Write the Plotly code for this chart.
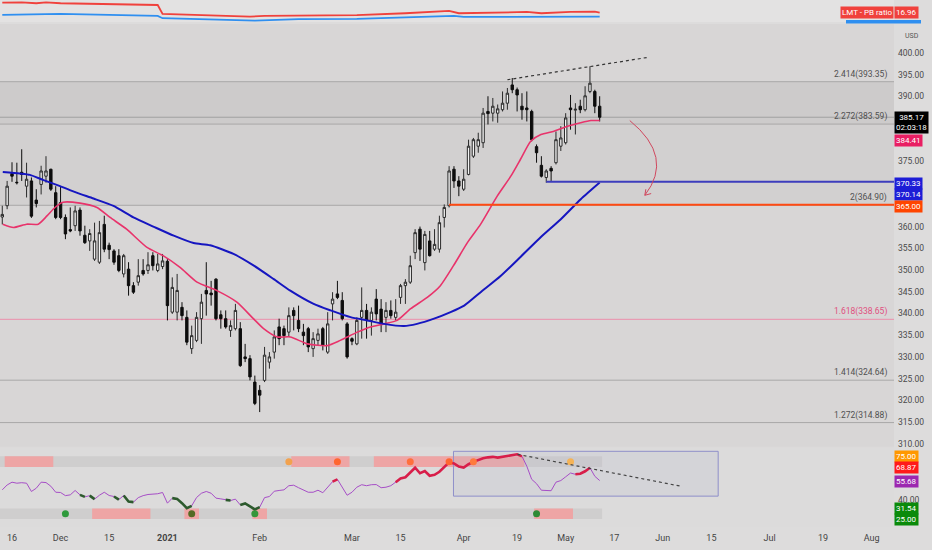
import plotly.graph_objects as go

# daily bars, index 0 = 2020-11-12 (trading days only)
o = [362.2, 364.8, 372.2, 370.2, 372.5, 369.3, 370.5, 366.1, 369.7, 371.6,
     373.2, 367.8, 365.5, 362.1, 359.3, 360.2, 363.8, 358.0, 356.7, 352.5,
     351.8, 360.5, 355.7, 354.4, 353.3, 349.1, 350.2, 346.4, 347.2, 349.9,
     349.9, 353.3, 349.9, 350.8, 352.0, 340.3, 340.3, 341.4, 339.1, 331.9,
     333.8, 338.8, 345.3, 344.7, 347.9, 339.7, 338.8, 336.1, 336.5, 336.5,
     330.0, 329.6, 324.2, 322.3, 324.6, 328.8, 331.1, 336.9, 336.5, 335.7,
     340.7, 338.4, 335.7, 336.5, 331.9, 333.8, 336.5, 331.1, 342.2, 344.5,
     343.0, 337.6, 334.2, 333.0, 339.1, 340.7, 338.4, 343.3, 341.0, 339.1,
     340.7, 339.1, 343.7, 346.4, 347.2, 354.0, 359.4, 351.7, 356.7, 354.8,
     354.8, 362.1, 364.8, 373.2, 370.5, 368.6, 372.0, 376.2, 378.5, 379.3,
     386.5, 386.1, 386.1, 386.9, 388.4, 392.6, 391.5, 387.7, 387.3, 386.5,
     378.4, 374.1, 371.3, 373.4, 374.7, 378.5, 379.3, 387.3, 386.8, 387.7,
     386.9, 391.1, 391.1, 387.7]
h = [364.8, 370.5, 374.8, 374.7, 377.8, 374.7, 371.3, 368.6, 374.0, 376.2,
     373.3, 369.3, 369.3, 362.8, 364.4, 364.8, 364.4, 360.2, 359.4, 360.9,
     361.3, 362.5, 356.3, 354.8, 354.8, 353.7, 351.8, 347.2, 352.5, 352.5,
     354.1, 354.1, 353.7, 353.7, 352.5, 348.3, 349.1, 342.6, 340.7, 337.2,
     340.3, 344.5, 351.8, 347.5, 348.1, 340.7, 340.7, 338.4, 342.2, 338.0,
     333.0, 330.4, 325.7, 323.5, 332.3, 331.1, 336.1, 338.8, 337.2, 341.4,
     341.4, 341.8, 337.6, 336.9, 335.7, 336.5, 336.9, 340.3, 344.9, 347.5,
     344.9, 338.0, 334.5, 339.1, 346.0, 342.2, 341.4, 345.6, 343.3, 342.6,
     343.0, 343.3, 346.8, 347.9, 353.3, 359.4, 360.0, 359.0, 359.0, 359.4,
     362.5, 365.1, 373.9, 373.9, 371.6, 373.2, 380.0, 380.4, 381.6, 387.3,
     390.0, 389.6, 388.1, 391.1, 391.9, 394.2, 392.0, 390.7, 391.1, 386.9,
     378.9, 376.2, 373.2, 373.9, 381.9, 383.1, 386.1, 390.3, 388.4, 389.2,
     392.3, 396.9, 391.5, 390.0]
l = [360.5, 364.0, 370.3, 369.7, 370.5, 366.7, 362.0, 364.4, 367.4, 370.1,
     368.2, 361.7, 361.7, 357.1, 358.7, 359.0, 357.9, 356.0, 354.4, 352.1,
     351.4, 354.1, 352.5, 351.2, 349.5, 348.3, 344.1, 344.5, 346.4, 348.7,
     349.1, 349.9, 349.5, 350.2, 338.4, 339.9, 338.4, 338.4, 332.7, 330.7,
     333.4, 333.0, 339.5, 341.8, 338.4, 336.5, 336.5, 334.6, 336.1, 327.7,
     328.8, 324.6, 318.9, 317.3, 324.2, 327.3, 329.6, 332.7, 332.7, 334.6,
     336.1, 335.7, 332.7, 331.1, 330.0, 332.7, 331.5, 330.7, 338.4, 343.3,
     338.4, 329.6, 332.7, 332.7, 334.2, 334.2, 334.9, 338.4, 335.7, 335.7,
     338.8, 338.4, 342.2, 342.2, 346.8, 352.5, 352.1, 349.9, 353.1, 354.4,
     354.0, 359.8, 364.4, 368.9, 367.0, 368.2, 371.8, 375.8, 377.0, 378.1,
     383.5, 384.2, 383.9, 386.5, 386.9, 390.7, 386.5, 384.6, 384.2, 379.6,
     374.7, 371.3, 370.1, 370.5, 374.3, 377.4, 378.9, 382.3, 381.2, 386.1,
     386.5, 390.7, 386.1, 384.2]
c = [362.8, 369.3, 371.6, 370.1, 372.0, 370.9, 362.4, 365.3, 372.8, 372.8,
     368.6, 362.1, 362.1, 358.3, 359.0, 363.6, 359.0, 356.3, 358.4, 356.7,
     358.6, 354.8, 354.7, 351.8, 349.9, 353.3, 346.4, 344.9, 348.7, 349.1,
     351.2, 351.0, 351.4, 352.1, 341.8, 346.0, 345.3, 339.5, 333.4, 334.9,
     339.1, 342.6, 344.5, 344.3, 338.8, 338.8, 336.9, 337.2, 340.7, 328.0,
     329.6, 325.4, 319.3, 321.2, 330.4, 330.0, 334.6, 334.2, 334.9, 339.5,
     339.5, 336.5, 334.9, 332.3, 334.2, 335.3, 332.7, 337.6, 343.3, 343.7,
     338.8, 330.0, 333.6, 338.4, 340.7, 338.4, 340.3, 339.9, 337.6, 340.7,
     339.5, 340.3, 346.4, 347.2, 351.0, 358.6, 354.8, 358.2, 353.3, 355.9,
     360.9, 364.4, 372.8, 370.5, 369.3, 370.9, 378.5, 380.0, 380.0, 386.1,
     386.0, 387.7, 387.1, 388.4, 390.7, 391.5, 390.3, 386.9, 386.9, 380.0,
     377.0, 371.6, 372.8, 372.8, 380.0, 380.4, 385.0, 386.9, 387.0, 386.9,
     390.1, 393.0, 387.7, 385.17]

rsi = [48.3, 52.2, 54.4, 53.6, 54.0, 53.6, 47.0, 49.6, 54.4, 54.1,
       51.2, 46.4, 46.2, 43.7, 44.3, 47.8, 44.3, 42.7, 43.7, 40.9,
       44.0, 46.4, 43.8, 43.0, 40.5, 43.8, 39.0, 38.5, 42.1, 43.7,
       44.6, 44.8, 45.2, 46.2, 37.7, 41.7, 41.1, 37.7, 33.7, 35.6,
       42.2, 45.6, 47.0, 45.6, 41.7, 41.1, 40.3, 39.8, 40.9, 36.3,
       37.5, 35.1, 32.7, 34.5, 42.1, 43.0, 47.2, 47.8, 48.3, 51.6,
       52.0, 50.0, 48.0, 46.4, 46.4, 48.0, 46.0, 50.4, 54.8, 56.7,
       50.0, 44.0, 46.4, 50.4, 52.4, 51.6, 52.4, 52.5, 50.0, 50.4,
       51.6, 54.4, 57.3, 58.3, 62.3, 65.9, 61.5, 63.3, 59.5, 60.3,
       62.7, 66.3, 70.2, 69.4, 66.8, 66.0, 68.7, 70.6, 72.2, 73.4,
       74.2, 74.6, 74.0, 74.6, 75.6, 76.0, 76.6, 75.0, 67.1, 56.7,
       53.2, 48.0, 48.0, 47.6, 54.4, 55.7, 58.7, 61.7, 60.7, 61.1,
       63.1, 65.9, 59.1, 55.7]

# moving averages (bar index, value)
ema_x = [0.1, 2.3, 5, 7.4, 9.2, 10.9, 12.5, 16, 19.5, 22.2, 25.6, 29.8, 33.1, 36.6,
         40.1, 44.2, 48.3, 51.7, 53.8, 56.6, 59.3, 62.8, 66.9, 69.6, 73.1, 75.8, 78.6,
         81.3, 84.1, 87.5, 90.2, 92.9, 95.8, 98.5, 101.9, 104.7, 106.7, 108.8, 110.9,
         113.6, 116.4, 119.1, 121.2, 123]
ema_y = [360.55, 359.8, 360.55, 360.55, 362.45, 364.45, 365.6, 365.4, 364.4, 362.1,
         359.4, 355.2, 353.3, 350.6, 347.2, 345.25, 342.6, 338.8, 336.5, 334.6, 334.6,
         333.0, 332.6, 333.8, 335.7, 336.9, 337.6, 338.4, 341.1, 343.7, 346.4, 351.0,
         356.35, 360.55, 367.0, 371.6, 375.5, 379.65, 381.2, 381.95, 383.1, 383.9,
         384.4, 384.41]
sma_x = [0.1, 3.6, 5.7, 8.5, 11.9, 15.3, 18.8, 22.9, 27, 31.1, 35.3, 39.4, 42.8, 47.6,
         51.8, 55.9, 59.3, 64.1, 67.6, 71.7, 75.1, 78.6, 82.7, 85.4, 88.9, 92.3, 95.1,
         98.5, 102.6, 106.7, 110.9, 115, 119.1, 123]
sma_y = [372.55, 372.2, 371.9, 370.7, 369.3, 367.8, 366.45, 364.75, 362.1, 360.0,
         357.9, 356.2, 355.7, 353.7, 351.0, 347.9, 345.25, 342.2, 340.7, 339.15, 338.4,
         337.6, 337.1, 337.6, 338.8, 340.3, 341.8, 344.9, 348.6, 353.0, 357.6, 361.7,
         366.3, 370.14]

# PB / PE ratio pane
pb_x = [0, 4, 7, 9, 12, 18, 24, 32, 33, 39, 51, 54, 61, 71, 73, 83, 92, 94, 101, 108,
        111, 117, 122, 123]
pb_y = [20.45, 20.6, 20.25, 20.6, 20.25, 20.0, 19.75, 19.65, 16.5, 16.15, 15.56, 15.8,
        15.9, 16.25, 16.1, 16.75, 17.55, 16.75, 17.1, 17.2, 16.75, 17.2, 17.3, 16.96]
pe_x = [0, 12, 32, 33, 52, 61, 73, 93, 95, 110, 123]
pe_y = [16.15, 16.5, 15.8, 15.0, 14.16, 14.65, 14.75, 15.8, 15.45, 15.56, 15.54]

tick_pos = [2, 12, 22, 34, 53, 72, 82, 95, 106, 116, 126, 136, 146, 158, 169, 179]
tick_txt = ["16", "Dec", "15", "<b>2021</b>", "Feb", "Mar", "15", "Apr", "19", "May",
            "17", "Jun", "15", "Jul", "19", "Aug"]
# price ticks that are visible (the rest sit under the value tags)
price_ticks = [310, 315, 320, 325, 330, 335, 340, 345, 350, 355, 360, 375, 390, 395, 400]

fib_lvl = [393.35, 383.59, 364.90, 338.65, 324.64, 314.88]
fib_txt = ["2.414(393.35)", "2.272(383.59)", "2(364.90)", "1.618(338.65)",
           "1.414(324.64)", "1.272(314.88)"]

last_price = 385.17
support_blue = 370.33
support_red = 365.00
blue_start = 112
red_start = 92

# rsi highlight runs, signal bands and dots
hi_runs = [(68, 69), (81, 107), (118, 121)]
lo_runs = [(16, 17), (18, 19), (23, 24), (25, 27), (35, 39), (46, 47), (49, 53)]
ob_pink = [(1, 10), (60, 71), (77, 107)]
os_pink = [(19, 30), (38, 40), (52, 54), (110, 117)]
ob_dots = [59, 69, 84, 92, 97, 117]
ob_cols = ["#f2a24e", "#ff6630", "#ff6f3c", "#ff6630", "#ff7a3d", "#f5b356"]
os_dots = [13, 39, 52, 110]
os_cols = ["#2f9a3c", "#556a24", "#36963a", "#2e8b35"]

trend_main = ([104, 133.2], [393.8, 399.0])
trend_rsi = ([106.1, 139.7], [76.6, 51.2])
rsi_box = (92.9, 147.4, 43.3, 79.0)

n = len(c)
idx = list(range(n))
xr = [-0.47, 183.6]
FONT = "Roboto"

fig = go.Figure()

fig.add_trace(go.Candlestick(
    x=idx, open=o, high=h, low=l, close=c, xaxis="x", yaxis="y",
    increasing=dict(line=dict(color="#2a2a2a", width=1), fillcolor="#f3f3f3"),
    decreasing=dict(line=dict(color="#0d0d0d", width=1), fillcolor="#0d0d0d"),
    whiskerwidth=0, hoverinfo="skip", showlegend=False))
fig.add_trace(go.Scatter(x=ema_x, y=ema_y, mode="lines", xaxis="x", yaxis="y",
                         line=dict(color="#e8336b", width=1.6, shape="spline", smoothing=0.6),
                         hoverinfo="skip", showlegend=False))
fig.add_trace(go.Scatter(x=sma_x, y=sma_y, mode="lines", xaxis="x", yaxis="y",
                         line=dict(color="#1616c0", width=2, shape="spline", smoothing=0.6),
                         hoverinfo="skip", showlegend=False))

fig.add_trace(go.Scatter(x=pe_x, y=pe_y, mode="lines", xaxis="x2", yaxis="y2",
                         line=dict(color="#2f8ff0", width=1.8), hoverinfo="skip", showlegend=False))
fig.add_trace(go.Scatter(x=pb_x, y=pb_y, mode="lines", xaxis="x2", yaxis="y2",
                         line=dict(color="#f0413c", width=1.8), hoverinfo="skip", showlegend=False))

fig.add_trace(go.Scatter(x=idx, y=rsi, mode="lines", xaxis="x3", yaxis="y3",
                         line=dict(color="#a64ec6", width=1), hoverinfo="skip", showlegend=False))
for a, b in lo_runs:
    fig.add_trace(go.Scatter(x=idx[a:b + 1], y=rsi[a:b + 1], mode="lines", xaxis="x3", yaxis="y3",
                             line=dict(color="#2d5a2d", width=2.6), hoverinfo="skip", showlegend=False))
for a, b in hi_runs:
    fig.add_trace(go.Scatter(x=idx[a:b + 1], y=rsi[a:b + 1], mode="lines", xaxis="x3", yaxis="y3",
                             line=dict(color="#d81e4a", width=2.6), hoverinfo="skip", showlegend=False))
fig.add_trace(go.Scatter(x=ob_dots, y=[70.75] * len(ob_dots), mode="markers", xaxis="x3", yaxis="y3",
                         marker=dict(size=7, color=ob_cols, line=dict(width=0)),
                         hoverinfo="skip", showlegend=False))
fig.add_trace(go.Scatter(x=os_dots, y=[29.25] * len(os_dots), mode="markers", xaxis="x3", yaxis="y3",
                         marker=dict(size=7, color=os_cols, line=dict(width=0)),
                         hoverinfo="skip", showlegend=False))

shapes = []
# pane backgrounds
shapes.append(dict(type="rect", xref="x2 domain", yref="y2 domain", x0=0, x1=1, y0=0, y1=1,
                   fillcolor="#e3e2e2", line=dict(width=0), layer="below"))
shapes.append(dict(type="rect", xref="x3 domain", yref="y3 domain", x0=0, x1=1, y0=0, y1=1,
                   fillcolor="#dcdbdb", line=dict(width=0), layer="below"))
# fib bands
shapes.append(dict(type="rect", xref="x domain", yref="y", x0=0, x1=1, y0=fib_lvl[1], y1=fib_lvl[0],
                   fillcolor="rgba(0,0,0,0.05)", line=dict(width=0), layer="below"))
shapes.append(dict(type="rect", xref="x domain", yref="y", x0=0, x1=1, y0=fib_lvl[2], y1=fib_lvl[1],
                   fillcolor="rgba(0,0,0,0.022)", line=dict(width=0), layer="below"))
for lv in fib_lvl:
    col = "#ec8fab" if lv == 338.65 else "#a9a8a8"
    shapes.append(dict(type="line", xref="x domain", yref="y", x0=0, x1=1, y0=lv, y1=lv,
                       line=dict(color=col, width=1), layer="below"))
shapes.append(dict(type="line", xref="x domain", yref="y", x0=0, x1=1, y0=last_price, y1=last_price,
                   line=dict(color="#a0a0a0", width=1), layer="below"))
# support rays
shapes.append(dict(type="line", xref="x", yref="y", x0=blue_start, x1=xr[1], y0=support_blue,
                   y1=support_blue, line=dict(color="#3d3dbd", width=2)))
shapes.append(dict(type="line", xref="x", yref="y", x0=red_start, x1=xr[1], y0=support_red,
                   y1=support_red, line=dict(color="#ff4a12", width=2)))
# trend lines
shapes.append(dict(type="line", xref="x", yref="y", x0=trend_main[0][0], x1=trend_main[0][1],
                   y0=trend_main[1][0], y1=trend_main[1][1],
                   line=dict(color="#333333", width=1.2, dash="dot")))
# curved arrow
shapes.append(dict(type="path", xref="x", yref="y",
                   path="M 129.2,384.4 Q 138.4,376.0 132.3,367.2",
                   line=dict(color="#d0485e", width=1)))
shapes.append(dict(type="path", xref="x", yref="y",
                   path="M 133.6,367.6 L 132.3,367.2 L 132.5,368.6",
                   line=dict(color="#d0485e", width=1)))
# rsi bands
for lo_v, hi_v, runs in [(66.5, 75, ob_pink), (25, 33.5, os_pink)]:
    shapes.append(dict(type="rect", xref="x3", yref="y3", x0=-0.5, x1=n - 0.5, y0=lo_v, y1=hi_v,
                       fillcolor="#cfcece", line=dict(width=0), layer="below"))
    for a, b in runs:
        shapes.append(dict(type="rect", xref="x3", yref="y3", x0=a - 0.5, x1=b + 0.5, y0=lo_v, y1=hi_v,
                           fillcolor="#eea5a5", line=dict(width=0), layer="below"))
shapes.append(dict(type="rect", xref="x3", yref="y3", x0=rsi_box[0], x1=rsi_box[1],
                   y0=rsi_box[2], y1=rsi_box[3], fillcolor="rgba(185,185,205,0.22)",
                   line=dict(color="#8f8fca", width=1), layer="below"))
shapes.append(dict(type="line", xref="x3", yref="y3", x0=trend_rsi[0][0], x1=trend_rsi[0][1],
                   y0=trend_rsi[1][0], y1=trend_rsi[1][1],
                   line=dict(color="#444444", width=1.2, dash="dot")))
# PE label top edge (clipped by main pane in the original)
shapes.append(dict(type="rect", xref="paper", yref="paper", x0=846 / 894, x1=921 / 894,
                   y0=1 - 23.5 / 550, y1=1 - 20 / 550, fillcolor="#2f8ff0", line=dict(width=0)))

ann = []
for lv, t in zip(fib_lvl, fib_txt):
    col = "#e0507f" if lv == 338.65 else "#505050"
    ann.append(dict(xref="paper", yref="y", x=0.9945, y=lv, text=t, showarrow=False,
                    xanchor="right", yanchor="bottom", yshift=0,
                    font=dict(family=FONT, size=8.5, color=col)))


def tag(text, y, yref, bg, fg="white", xanchor="left", x=1.0):
    ann.append(dict(xref="paper", yref=yref, x=x, y=y, text=text, showarrow=False,
                    xanchor=xanchor, yanchor="middle", bgcolor=bg, borderpad=1,
                    font=dict(family=FONT, size=8, color=fg)))


tag("385.17<br>02:03:18", 384.05, "y", "#000000")
tag("384.41", 379.9, "y", "#e91e63")
tag("370.33", 369.95, "y", "#1d1dd6")
tag("370.14", 367.45, "y", "#1d1dd6")
tag("365.00", 364.7, "y", "#ff4500")
tag("75.00", 75.0, "y3", "#ff9800")
tag("68.87", 66.4, "y3", "#ff1a1a")
tag("55.68", 55.3, "y3", "#9c27b0")
tag("31.54", 33.4, "y3", "#0a8a0a")
tag("25.00", 24.9, "y3", "#0a8a0a")
tag("16.96", 16.96, "y2", "#f0413c")
tag("LMT - PB ratio", 16.96, "y2", "#f0413c", xanchor="right")
ann.append(dict(xref="paper", yref="y", x=1.0, xshift=9, y=403.9, text="USD", showarrow=False,
                xanchor="left", yanchor="middle", font=dict(family=FONT, size=7, color="#555555")))

axis_font = dict(family=FONT, size=8.5, color="#4a4a4a")
fig.update_layout(
    width=932, height=550,
    margin=dict(l=0, r=38, t=0, b=0),
    paper_bgcolor="#dddcdc", plot_bgcolor="#d8d6d6",
    showlegend=False,
    shapes=shapes, annotations=ann,
    xaxis=dict(domain=[0, 1], range=xr, anchor="y", showticklabels=False, showgrid=False,
               zeroline=False, rangeslider=dict(visible=False), fixedrange=True),
    xaxis2=dict(domain=[0, 1], matches="x", anchor="y2", showticklabels=False, showgrid=False,
                zeroline=False),
    xaxis3=dict(domain=[0, 1], matches="x", anchor="y3", tickvals=tick_pos, ticktext=tick_txt,
                ticks="", showgrid=False, zeroline=False, ticklabelstandoff=5,
                tickfont=dict(family=FONT, size=9, color="#444444"), showline=False),
    yaxis=dict(domain=[1 - 448.5 / 550, 1 - 24 / 550], range=[309.29, 406.65], side="right",
               anchor="x", tickvals=price_ticks,
               ticktext=[f"{v:.2f}" for v in price_ticks], ticklabelstandoff=3,
               ticks="", showgrid=False, zeroline=False, tickfont=axis_font),
    yaxis2=dict(domain=[1 - 22 / 550, 1], range=[13.7, 21.4], side="right", anchor="x2",
                tickvals=[20], ticktext=["20.00"], ticks="", showgrid=False, zeroline=False,
                ticklabelstandoff=3, tickfont=axis_font),
    yaxis3=dict(domain=[1 - 528 / 550, 1 - 449 / 550], range=[19.44, 82.14], side="right",
                anchor="x3", tickvals=[40], ticktext=["40.00"], ticks="", showgrid=False,
                zeroline=False, ticklabelstandoff=3, tickfont=axis_font),
)

# the page body has a default 8px margin; drop it so the figure sits at the window origin
fig.write_html("out.html", config={"displayModeBar": False},
               post_script="document.body.style.margin='0';document.body.style.overflow='hidden';")
